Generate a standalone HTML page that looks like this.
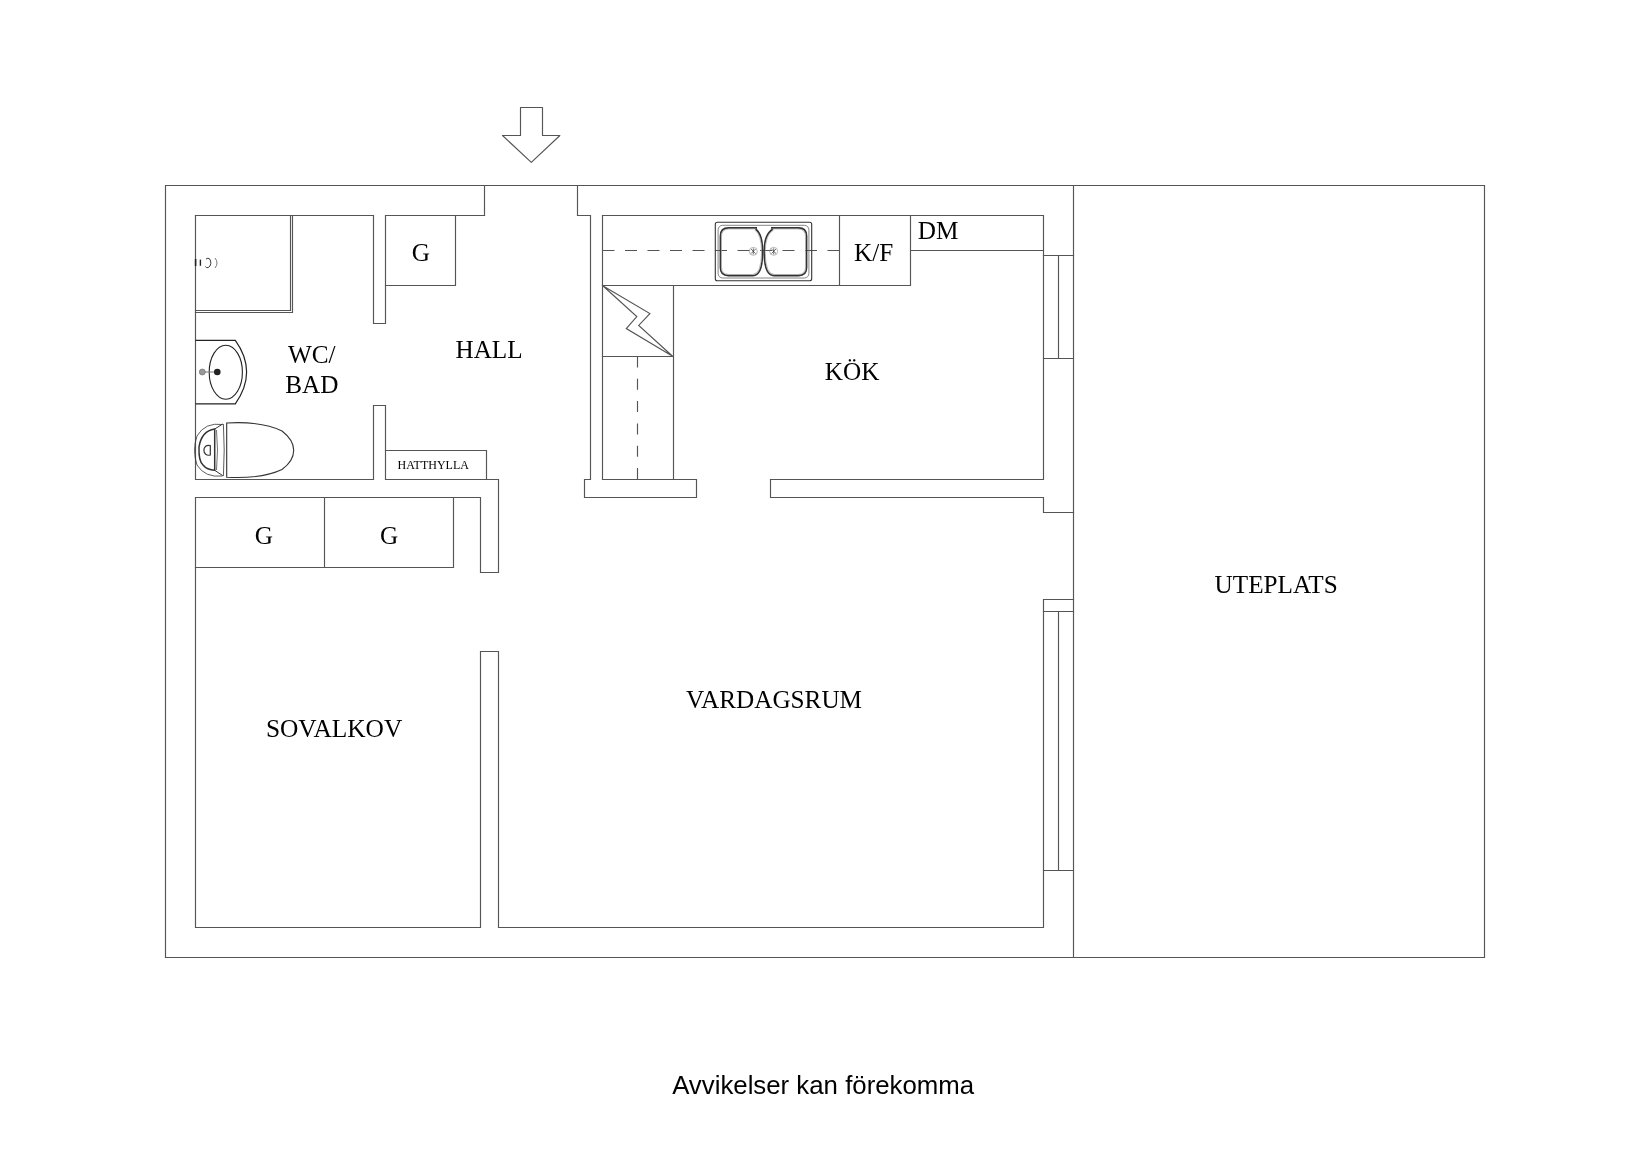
<!DOCTYPE html>
<html><head><meta charset="utf-8"><title>Floor plan</title>
<style>
html,body{margin:0;padding:0;background:#fff;}
body{width:1650px;height:1166px;overflow:hidden;}
svg{display:block;will-change:transform;}
text{fill:#000;}
</style></head><body>
<svg width="1650" height="1166" viewBox="0 0 1650 1166">
<rect width="1650" height="1166" fill="#fff"/>
<g fill="none" stroke="#555" stroke-width="1.15" stroke-linejoin="miter" stroke-linecap="square">
<path d="M484.5,215.5 V185.5 H165.5 V957.5 H1484.5 V185.5 H577.5 V215.5 H590.5 V479.5 H584.5 V497.5 H696.5 V479.5 H602.5 V215.5 H1043.5 V479.5 H770.5 V497.5 H1043.5 V512.5 H1073.5" />
<path d="M1073.5,185.5 V957.5 M484.5,185.5 H577.5" />
<path d="M195.5,215.5 V479.5 H373.5 V405.5 H385.5 V479.5 H498.5 V572.5 H480.5 V497.5 H195.5 V927.5 H480.5 V651.5 H498.5 V927.5 H1043.5 V599.5 H1073.5" />
<path d="M195.5,215.5 H373.5 V323.5 H385.5 V215.5 H484.5" />
<path d="M385.5,285.5 H455.5 V215.5" />
<path d="M385.5,450.5 H486.5 V479.5" />
<path d="M453.5,497.5 V567.5 H195.5 M324.5,497.5 V567.5" />
<path d="M195.5,310.5 H290.5 V215.5 M195.5,312.5 H292.5 V215.5" />
<path d="M602.5,285.5 H910.5 V215.5 M839.5,215.5 V285.5 M910.5,250.5 H1043.5" />
<path d="M673.5,285.5 V479.5 M602.5,356.5 H673.5" />
<path d="M602.8,285.8 L649.9,313.6 L638.7,325.4 L672.6,356.2 L626.3,328.5 L636.8,316.6 Z" stroke-linejoin="miter"/>
<path d="M1043.5,255.5 H1073.5 M1043.5,358.5 H1073.5 M1058.5,255.5 V358.5" />
<path d="M1043.5,611.5 H1073.5 M1043.5,870.5 H1073.5 M1058.5,611.5 V870.5" />
<path d="M520.5,107.5 H542.5 V135.5 H559.9 L531.3,162.3 L502.5,135.5 H520.5 Z" stroke-linejoin="round"/>
</g>
<g fill="none" stroke="#555" stroke-width="1.15">
<path d="M602.5,250.5 H839.5" stroke-dasharray="12 10.5" />
<path d="M637.5,356.5 V479.5" stroke-dasharray="11 11.3" />
</g>

<g fill="none" stroke="#333">
 <rect x="715.3" y="222.3" width="96.4" height="58.4" rx="2" stroke-width="1.1"/>
 <rect x="718.1" y="225.3" width="90.8" height="52.7" rx="4.5" stroke-width="0.8" stroke="#666"/>
 <path d="M757,227.9 H728.5 Q720.4,227.9 720.4,236 V267.5 Q720.4,275.6 728.5,275.6 H753 Q762.6,275.6 762.6,251.7 Q762.6,234 755.5,229" stroke-width="1.6"/>
 <path d="M773,229 Q764.2,234 764.2,251.7 Q764.2,275.6 774,275.6 H798.5 Q806.6,275.6 806.6,267.5 V236 Q806.6,227.9 798.5,227.9 H771" stroke-width="1.6"/>
 <path d="M757,227.9 H728.5 Q720.4,227.9 720.4,236 V267.5 Q720.4,275.6 728.5,275.6 H753 Q762.6,275.6 762.6,251.7 Q762.6,234 755.5,229" stroke-width="0.7" stroke="#999" transform="translate(741.5 251.7) scale(0.95 0.955) translate(-741.5 -251.7)"/>
 <path d="M773,229 Q764.2,234 764.2,251.7 Q764.2,275.6 774,275.6 H798.5 Q806.6,275.6 806.6,267.5 V236 Q806.6,227.9 798.5,227.9 H771" stroke-width="0.7" stroke="#999" transform="translate(785.4 251.7) scale(0.95 0.955) translate(-785.4 -251.7)"/>
 <circle cx="753.3" cy="251.3" r="4" stroke-width="0.6" stroke="#888"/>
 <circle cx="773.7" cy="251.3" r="4" stroke-width="0.6" stroke="#888"/>
 <path d="M751,249 l4.6,4.6 M755.6,249 l-4.6,4.6 M753.3,248.3 v6 M771.4,249 l4.6,4.6 M776,249 l-4.6,4.6 M773.7,248.3 v6" stroke-width="0.7"/>
</g>

<g fill="none" stroke="#222">
 <path d="M195.4,340.4 H235.3 C243,351 246.6,361 246.6,372 C246.6,383 243,393 235.3,403.8 H195.4" stroke-width="1.2"/>
 <ellipse cx="225.8" cy="372.2" rx="16.6" ry="27" stroke-width="1.1"/>
 <path d="M202.3,372 H217" stroke="#777" stroke-width="1"/>
 <circle cx="202.3" cy="372" r="3" fill="#999" stroke="#666" stroke-width="0.6"/>
 <circle cx="217.3" cy="372" r="3.3" fill="#222" stroke="none"/>
</g>

<g fill="none" stroke="#333">
 <path d="M222.7,424.5 Q205,422 197,436 Q192,450 197,465 Q205,478 222.7,476" stroke-width="0.8"/>
 <path d="M214.7,429 Q201.5,431 199,447 Q198.5,461 203,465 Q207,470 214.7,470.3 Z" stroke-width="1.5"/>
 <path d="M214.7,429 L222.7,424 M214.7,470.3 L222.7,475.6" stroke-width="1"/>
 <path d="M216.5,430 Q218.5,450 216.5,470" stroke-width="0.7"/>
 <path d="M223.4,424 Q225,450 223.4,476" stroke-width="0.8"/>
 <path d="M226.7,423 Q262,421 282,431 Q293.7,440 293.7,450.3 Q293.7,461 282,469.5 Q262,479 226.7,477.3 Z" stroke-width="1.1"/>
 <path d="M210.3,445.6 C206.5,444.6 203.9,447 203.9,450.3 C203.9,453.6 206.5,456 210.3,455 Z" stroke-width="1.2"/>
</g>

<g fill="none" stroke="#222">
 <path d="M195.6,259 V266" stroke-width="1.6"/>
 <path d="M200.4,259.6 V265.8" stroke-width="1.4"/>
 <path d="M206,259 Q208,257.6 209.6,258.8 Q211,261 210.8,263.5 Q210.6,266.4 208.2,267.6 Q206.5,268 205.4,266.6" stroke-width="0.9"/>
 <path d="M215,258 Q217,260.5 217,263 Q217,265.5 215,268" stroke-width="0.8" stroke="#555"/>
</g>
<g>
<text x="411.65" y="260.80" font-size="25.2" style='font-family:"Liberation Serif", serif'>G</text>
<text x="288.02" y="362.60" font-size="25.2" style='font-family:"Liberation Serif", serif'>WC/</text>
<text x="285.31" y="392.80" font-size="25.2" style='font-family:"Liberation Serif", serif'>BAD</text>
<text x="455.45" y="358.30" font-size="25.2" style='font-family:"Liberation Serif", serif'>HALL</text>
<text x="397.59" y="469.10" font-size="12.0" style='font-family:"Liberation Serif", serif'>HATTHYLLA</text>
<text x="854.07" y="260.70" font-size="25.2" style='font-family:"Liberation Serif", serif'>K/F</text>
<text x="917.83" y="239.30" font-size="25.2" style='font-family:"Liberation Serif", serif'>DM</text>
<text x="824.79" y="380.20" font-size="25.2" style='font-family:"Liberation Serif", serif'>KÖK</text>
<text x="254.85" y="543.70" font-size="25.2" style='font-family:"Liberation Serif", serif'>G</text>
<text x="379.95" y="543.70" font-size="25.2" style='font-family:"Liberation Serif", serif'>G</text>
<text x="265.92" y="737.00" font-size="25.4" style='font-family:"Liberation Serif", serif'>SOVALKOV</text>
<text x="686.11" y="708.10" font-size="25.2" style='font-family:"Liberation Serif", serif'>VARDAGSRUM</text>
<text x="1214.62" y="592.90" font-size="25.2" style='font-family:"Liberation Serif", serif'>UTEPLATS</text>
<text x="672.14" y="1094.10" font-size="25.8" style='font-family:"Liberation Sans", sans-serif'>Avvikelser kan förekomma</text>
</g>
</svg>
</body></html>
